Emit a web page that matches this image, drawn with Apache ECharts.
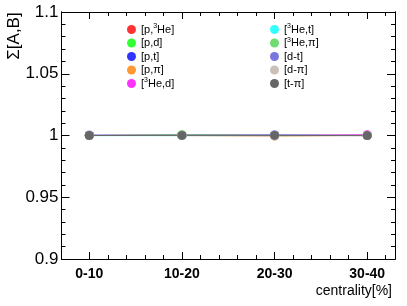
<!DOCTYPE html>
<html>
<head>
<meta charset="utf-8">
<script src="https://cdn.jsdelivr.net/npm/echarts@6/dist/echarts.min.js"></script>
<style>html,body{margin:0;padding:0;background:#fff}#c{width:407px;height:306px}</style>
</head>
<body>
<div id="c"></div>
<script>
// ---- data ----
var categories = ['0-10', '10-20', '20-30', '30-40'];
var xPositions = [0, 1, 2, 3];
var seriesNames = ['[p,3He]', '[p,d]', '[p,t]', '[p,π]', '[3He,d]', '[3He,t]', '[3He,π]', '[d-t]', '[d-π]', '[t-π]'];
var seriesColors = ['#ff3333', '#33ff33', '#3333ff', '#ff9933', '#ff33ff', '#33ffff', '#70dc70', '#7777dd', '#ccc0b6', '#666666'];
var v_p_3He  = [1.0000, 1.0002, 1.0000, 1.0003];
var v_p_d    = [0.9999, 1.0006, 0.9999, 1.0000];
var v_p_t    = [1.0000, 1.0001, 1.0004, 1.0000];
var v_p_pi   = [1.0000, 1.0000, 0.9996, 1.0001];
var v_3He_d  = [1.0001, 1.0002, 1.0000, 1.0006];
var v_3He_t  = [0.9999, 0.9999, 1.0000, 1.0001];
var v_3He_pi = [1.0000, 1.0003, 1.0001, 1.0000];
var v_d_t    = [1.0004, 1.0001, 1.0002, 0.9999];
var v_d_pi   = [1.0000, 0.9999, 0.9997, 1.0000];
var v_t_pi   = [1.0000, 1.0001, 1.0001, 0.9999];
var seriesValues = [v_p_3He, v_p_d, v_p_t, v_p_pi, v_3He_d, v_3He_t, v_3He_pi, v_d_t, v_d_pi, v_t_pi];
var yTickLabels = [0.9, 0.95, 1, 1.05, 1.1];
var yLabelText = ['0.9', '0.95', '1', '1.05', '1.1'];
var yMinor = [];
for (var i = 1; i < 20; i++) { if (i % 5 !== 0) yMinor.push(+(0.9 + i * 0.01).toFixed(2)); }
var xMinor = [];
for (var k = 1; k <= 16; k++) { if (k % 5 !== 0) xMinor.push(+(k * 0.2).toFixed(1)); }

var FONT = '"Liberation Sans", Arial, Helvetica, sans-serif';
var chart = echarts.init(document.getElementById('c'), null, {renderer: 'canvas'});

function xAx(pos, ticks, len, withLabel) {
  return {
    type: 'value', position: pos, min: -0.3, max: 3.3,
    axisLine: {show: true, onZero: false, lineStyle: {color: '#000', width: 1}},
    axisTick: {show: true, inside: true, length: len, customValues: ticks, lineStyle: {color: '#000'}},
    axisLabel: withLabel ? {
      show: true, customValues: xPositions, margin: 8,
      fontFamily: FONT, fontSize: 14, fontWeight: 'bold', color: '#000',
      formatter: function (v) { var idx = xPositions.indexOf(Math.round(v)); return idx >= 0 ? categories[idx] : ''; }
    } : {show: false},
    splitLine: {show: false}
  };
}
function yAx(pos, ticks, len, withLabel) {
  return {
    type: 'value', position: pos, min: 0.9, max: 1.1,
    axisLine: {show: true, onZero: false, lineStyle: {color: '#000', width: 1}},
    axisTick: {show: true, inside: true, length: len, customValues: ticks, lineStyle: {color: '#000'}},
    axisLabel: withLabel ? {
      show: true, customValues: yTickLabels, margin: 3,
      fontFamily: FONT, fontSize: 17, color: '#000',
      formatter: function (v) { for (var j = 0; j < yTickLabels.length; j++) { if (Math.abs(v - yTickLabels[j]) < 1e-6) return yLabelText[j]; } return ''; }
    } : {show: false},
    splitLine: {show: false}
  };
}

function legendFormatter(name) {
  var m = name.match(/^\[(.*?)3He(.*)$/);
  if (m) {
    return '{t|[' + m[1] + '}{s|3}{t|He' + m[2] + '}';
  }
  return '{t|' + name + '}';
}
var richStyle = {
  t: {fontFamily: FONT, fontSize: 11, color: '#000', lineHeight: 13},
  s: {fontFamily: FONT, fontSize: 7, color: '#000', lineHeight: 13, verticalAlign: 'top', padding: [0, 0, 4, 0]}
};
function makeLegend(names, left) {
  return {
    show: true, orient: 'vertical', left: left, top: 23, itemWidth: 9, itemHeight: 9, itemGap: 0.5,
    icon: 'circle', data: names, formatter: legendFormatter, padding: 0,
    textStyle: {fontFamily: FONT, fontSize: 11, color: '#000', lineHeight: 13, rich: richStyle}
  };
}

var series = seriesNames.map(function (n, i) {
  return {
    name: n, type: 'line', xAxisIndex: 0, yAxisIndex: 0,
    data: xPositions.map(function (x, j) { return [x, seriesValues[i][j]]; }),
    symbol: 'circle', symbolSize: 9, showSymbol: true,
    lineStyle: {width: 1, color: seriesColors[i]},
    itemStyle: {color: seriesColors[i]},
    emphasis: {disabled: true}
  };
});

chart.setOption({
  animation: false,
  backgroundColor: '#fff',
  grid: {left: 61.5, right: 12, top: 12, bottom: 47, containLabel: false},
  xAxis: [
    xAx('bottom', xPositions, 7, true),
    xAx('bottom', xMinor, 4, false),
    xAx('top', xPositions, 7, false),
    xAx('top', xMinor, 4, false)
  ],
  yAxis: [
    yAx('left', yTickLabels, 8, true),
    yAx('left', yMinor, 4, false),
    yAx('right', yTickLabels, 8, false),
    yAx('right', yMinor, 4, false)
  ],
  legend: [makeLegend(seriesNames.slice(0, 5), 127), makeLegend(seriesNames.slice(5), 270)],
  graphic: [
    {type: 'text', x: 14, y: 36, rotation: Math.PI / 2,
     style: {text: 'Σ[A,B]', fontFamily: FONT, fontSize: 17, fill: '#000', align: 'center', verticalAlign: 'middle'}},
    {type: 'text', x: 392, y: 291,
     style: {text: 'centrality[%]', fontFamily: FONT, fontSize: 14, fill: '#000', align: 'right', verticalAlign: 'middle'}}
  ],
  series: series
});
</script>
</body>
</html>
